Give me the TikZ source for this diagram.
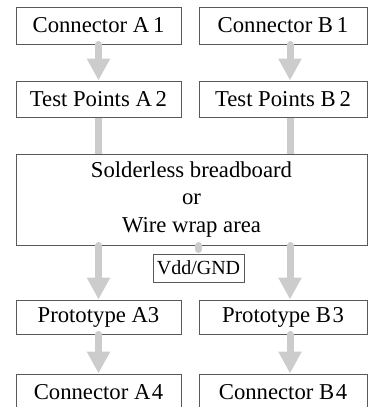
\documentclass[tikz,border=0pt]{standalone}
\usepackage{fontspec}
\setmainfont{Liberation Serif}
\usetikzlibrary{arrows.meta}
\begin{document}
\begin{tikzpicture}[x=1pt,y=-1pt,font=\fontsize{22.7}{27.5}\selectfont,
    box/.style={draw=black!65,line width=1pt,inner sep=0pt,minimum height=37pt},
    boxa/.style={box,minimum width=165pt},
    boxb/.style={box,minimum width=168pt},
    flow/.style={draw=black!20,line width=7pt,line cap=round},
    flowtip/.style={flow,-{Triangle[width=22pt,length=22pt]}}]
    \clip (0,0) rectangle (368,407);
    \node[boxa] (ca1) at (98.5,25.5) {Connector A\,1};
    \node[boxb] (cb1) at (283,25.5) {Connector B\,1};
    \node[boxa,minimum height=36pt] (tpa2) at (98.5,99) {Test Points A\,2};
    \node[boxb,minimum height=36pt] (tpb2) at (283,99) {Test Points B\,2};
    \node[box,minimum width=351pt,minimum height=91pt,align=center] (board) at (191.5,199.5) {Solderless breadboard\\or\\Wire wrap area};
    \node[box,minimum width=91pt,minimum height=28pt,font=\fontsize{20}{24}\selectfont] (vdd) at (198.5,268) {Vdd/GND};
    \node[boxa,minimum height=34pt] (pa3) at (98.5,317) {Prototype A3};
    \node[boxb,minimum height=34pt] (pb3) at (283,317) {Prototype B\kern1.5pt3};
    \node[boxa] (ca4) at (98.5,392.5) {Connector A\kern1.5pt4};
    \node[boxb] (cb4) at (283,392.5) {Connector B\kern1.5pt4};
    \foreach \u/\v in {ca1/tpa2,board/pa3,pa3/ca4} \draw[flowtip] (\u.south -| \v.north) -- (\v.north);
    \foreach \u/\v in {cb1/tpb2,board/pb3,pb3/cb4} \draw[flowtip] ([xshift=7pt]\u.south -| \v.north) -- ([xshift=7pt]\v.north);
    \draw[flow,line cap=butt] (tpa2.south) -- (tpa2.south |- board.north);
    \draw[flow,line cap=butt] ([xshift=7pt]tpb2.south) -- ([xshift=7pt]tpb2.south |- board.north);
    \draw[flow,shorten >=4pt] (vdd.north |- board.south) -- (vdd.north);
\end{tikzpicture}
\end{document}
